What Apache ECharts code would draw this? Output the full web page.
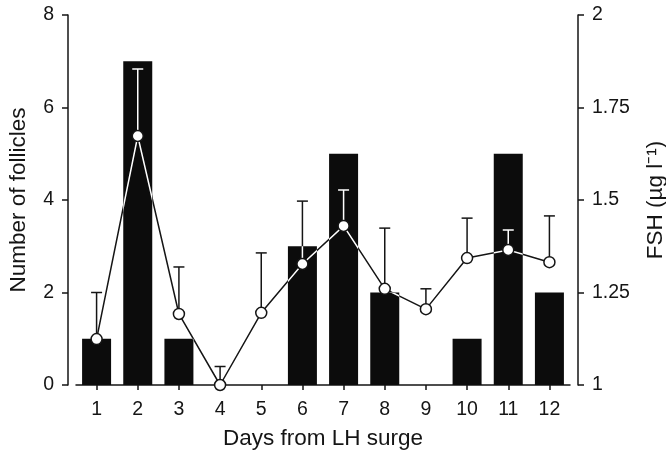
<!DOCTYPE html>
<html>
<head>
<meta charset="utf-8">
<script src="https://cdn.jsdelivr.net/npm/echarts@6/dist/echarts.min.js"></script>
<style>
html,body{margin:0;padding:0;background:#fff;}
#c{width:666px;height:452px;}
</style>
</head>
<body>
<div id="c"></div>
<script>
// ---- data ----
const days = ['1','2','3','4','5','6','7','8','9','10','11','12'];
const follicles = [1, 7, 1, 0, 0, 3, 5, 2, 0, 1, 5, 2];
const fshMean  = [1.124, 1.673, 1.192, 1.0, 1.195, 1.327, 1.43, 1.26, 1.205, 1.343, 1.365, 1.332];
const fshUpper = [1.25, 1.854, 1.319, 1.05, 1.357, 1.497, 1.527, 1.424, 1.26, 1.451, 1.419, 1.457];
const leftTicks = [0, 8, 2];      // min, max, interval
const rightTicks = [1, 2, 0.25];  // min, max, interval

const FONT = '"Liberation Sans", Arial, Helvetica, sans-serif';
const INK = '#151515';
const BAR_W = 29;

// map a follicle count onto the FSH axis scale (both axes share the grid height)
function folToFsh(v){
  return rightTicks[0] + (v - leftTicks[0]) * (rightTicks[1] - rightTicks[0]) / (leftTicks[1] - leftTicks[0]);
}

const errData = days.map((d, i) => [i, fshMean[i], fshUpper[i], folToFsh(follicles[i])]);

const chart = echarts.init(document.getElementById('c'), null, {renderer: 'canvas'});

function errItem(params, api){
  const i = api.value(0);
  const mean = api.value(1), up = api.value(2), barTop = api.value(3);
  const p = api.coord([i, mean]);
  const t = api.coord([i, up]);
  const cap = 5.5;
  const mk = (color) => [
    {type:'line', shape:{x1:p[0], y1:p[1], x2:p[0], y2:t[1]}, style:{stroke:color, lineWidth:1.5}},
    {type:'line', shape:{x1:p[0]-cap, y1:t[1], x2:p[0]+cap, y2:t[1]}, style:{stroke:color, lineWidth:1.5}}
  ];
  const children = mk(INK);
  if (follicles[i] > 0) {
    const top = api.coord([i, barTop])[1];
    const bot = api.coord([i, rightTicks[0]])[1];
    const pts = [];
    if (i > 0) pts.push(api.coord([i-1, fshMean[i-1]]));
    pts.push(p);
    if (i < days.length - 1) pts.push(api.coord([i+1, fshMean[i+1]]));
    const white = mk('#ffffff');
    white.push({type:'polyline', shape:{points:pts}, style:{stroke:'#ffffff', lineWidth:1.5, fill:null}});
    children.push({
      type:'group',
      clipPath:{type:'rect', shape:{x:p[0]-BAR_W/2, y:top, width:BAR_W, height:bot-top}},
      children: white
    });
  }
  return {type:'group', children};
}

const axisCommon = {
  axisLine:{show:true, lineStyle:{color:INK, width:1.5}},
  axisTick:{show:true, length:6, lineStyle:{color:INK, width:1.5}},
  splitLine:{show:false},
  axisLabel:{color:INK, fontSize:19.5, fontFamily:FONT, margin:14},
  nameTextStyle:{color:INK, fontSize:22.5, fontFamily:FONT}
};

chart.setOption({
  animation:false,
  backgroundColor:'#ffffff',
  grid:{left:76, right:96, top:15, bottom:67, containLabel:false, outerBoundsMode:'none'},
  xAxis:{
    type:'category', data:days, boundaryGap:true,
    axisLine:{show:true, lineStyle:{color:INK, width:1.5}},
    axisTick:{show:true, alignWithLabel:true, length:5, lineStyle:{color:INK, width:1.5}},
    axisLabel:{color:INK, fontSize:19.5, fontFamily:FONT, margin:15},
    name:'Days from LH surge', nameLocation:'middle', nameGap:42,
    nameTextStyle:{color:INK, fontSize:22.5, fontFamily:FONT}
  },
  yAxis:[
    Object.assign({}, axisCommon, {
      type:'value', position:'left', offset:8,
      min:leftTicks[0], max:leftTicks[1], interval:leftTicks[2],
      name:'Number of follicles', nameLocation:'middle', nameGap:38, nameRotate:90
    }),
    Object.assign({}, axisCommon, {
      type:'value', position:'right', offset:8,
      min:rightTicks[0], max:rightTicks[1], interval:rightTicks[2],
      name:'FSH (µg l⁻¹)', nameLocation:'middle', nameGap:66, nameRotate:90
    })
  ],
  series:[
    {
      type:'bar', data:follicles, yAxisIndex:0, barWidth:BAR_W,
      itemStyle:{color:'#0c0c0c'}, z:1
    },
    {
      type:'line', data:fshMean, yAxisIndex:1,
      lineStyle:{color:INK, width:1.5},
      symbol:'none', z:2
    },
    {
      type:'custom', yAxisIndex:1, data:errData, renderItem:errItem,
      encode:{x:0, y:[1,2]}, z:3
    },
    {
      type:'scatter', data:fshMean, yAxisIndex:1,
      symbol:'circle', symbolSize:11,
      itemStyle:{color:'#ffffff', borderColor:INK, borderWidth:1.5, opacity:1},
      z:4
    }
  ]
});
</script>
</body>
</html>
